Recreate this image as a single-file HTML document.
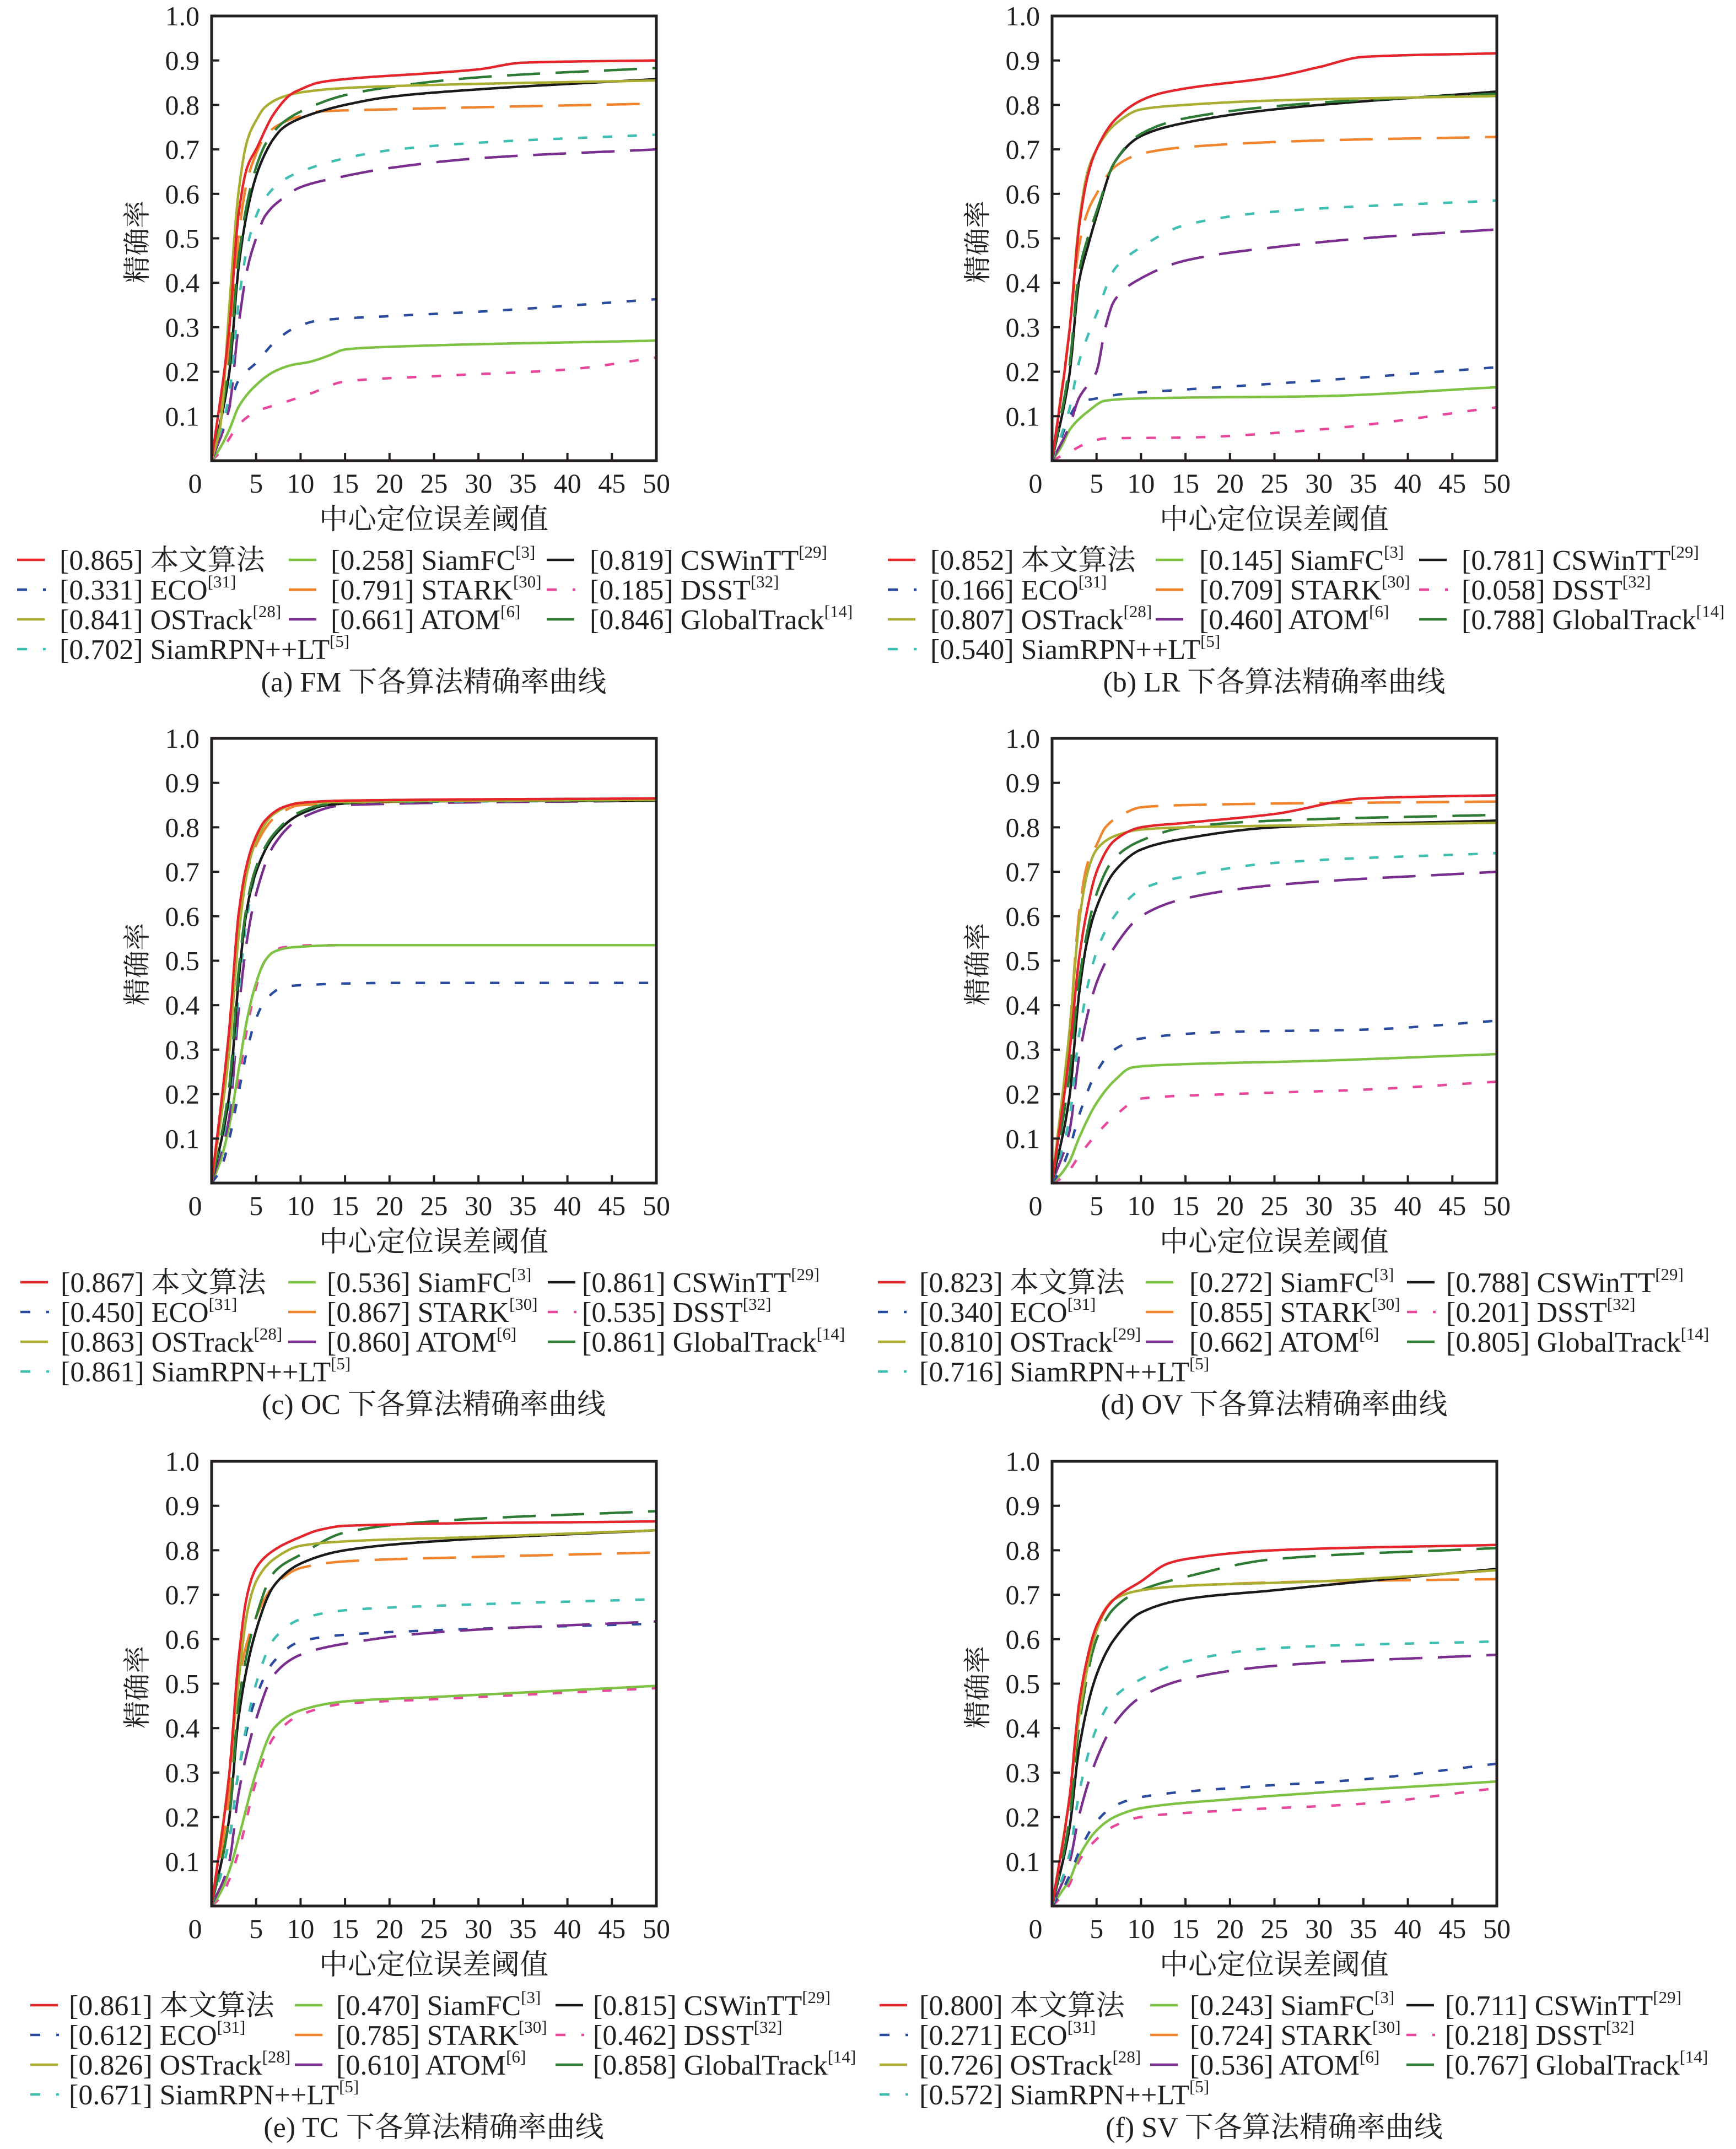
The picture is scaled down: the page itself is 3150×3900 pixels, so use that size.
<!DOCTYPE html>
<html><head><meta charset="utf-8">
<style>
html,body{margin:0;padding:0;background:#fff;}
svg{display:block;}
text{font-family:"Liberation Serif","Noto Serif CJK SC",serif;fill:#231f20;}
</style></head>
<body>
<svg id="s" xmlns="http://www.w3.org/2000/svg" width="3150" height="3900" viewBox="0 0 3150 3900"></svg>
<script>
const W=807,H=807;
const ST={
red:{c:'#e4262c',d:null},green:{c:'#7dc242',d:null},black:{c:'#1a1a1a',d:null},
blue:{c:'#2b4c9e',d:'17 28'},orange:{c:'#f0852d',d:'60 28'},pink:{c:'#e8479b',d:'17 28'},
olive:{c:'#a9ae32',d:null},purple:{c:'#7a2e8e',d:'60 28'},dg:{c:'#2e7b36',d:'60 28'},cyan:{c:'#3fbfb2',d:'17 28'}};
const order=['pink','green','blue','purple','cyan','orange','black','dg','olive','red'];
const legOrder=[['red','green','black'],['blue','orange','pink'],['olive','purple','dg'],['cyan']];
const P=[
{x:384,y:29,cap:'(a) FM 下各算法精确率曲线',cols:[[-353,-276],[140,216],[608,686]],
 names:{red:['0.865','本文算法',''],green:['0.258','SiamFC','[3]'],black:['0.819','CSWinTT','[29]'],blue:['0.331','ECO','[31]'],orange:['0.791','STARK','[30]'],pink:['0.185','DSST','[32]'],olive:['0.841','OSTrack','[28]'],purple:['0.661','ATOM','[6]'],dg:['0.846','GlobalTrack','[14]'],cyan:['0.702','SiamRPN++LT','[5]']},
 d:{red:[[0,0],[2,0.3],[3,0.55],[4,0.66],[5,0.7],[7,0.78],[9,0.825],[10,0.835],[12,0.85],[15,0.858],[25,0.872],[30,0.88],[35,0.895],[50,0.9]],
 olive:[[0,0],[1,0.08],[2,0.35],[3,0.6],[4,0.72],[5,0.765],[6,0.795],[8,0.818],[10,0.828],[15,0.838],[25,0.845],[50,0.855]],
 black:[[0,0],[2,0.2],[3,0.43],[4,0.56],[5,0.64],[6,0.69],[7,0.725],[8,0.748],[10,0.77],[13,0.79],[15,0.8],[20,0.818],[30,0.835],[50,0.858]],
 dg:[[0,0],[2,0.22],[3,0.45],[4,0.58],[5,0.66],[6,0.71],[7,0.74],[8,0.76],[10,0.785],[15,0.822],[20,0.84],[30,0.862],[50,0.883]],
 orange:[[0,0],[2,0.25],[3,0.5],[4,0.63],[5,0.69],[6,0.73],[8,0.76],[10,0.775],[12,0.785],[20,0.79],[50,0.803]],
 cyan:[[0,0],[2,0.15],[3,0.35],[4,0.48],[5,0.55],[6,0.59],[8,0.63],[10,0.65],[15,0.68],[20,0.698],[30,0.715],[50,0.733]],
 purple:[[0,0],[2,0.12],[3,0.3],[4,0.43],[5,0.5],[6,0.55],[8,0.59],[10,0.615],[15,0.64],[20,0.658],[30,0.68],[50,0.7]],
 blue:[[0,0],[1,0.05],[2,0.12],[3,0.18],[5,0.22],[7,0.265],[9,0.295],[12,0.315],[20,0.325],[30,0.335],[50,0.363]],
 green:[[0,0],[1,0.03],[2,0.07],[3,0.12],[5,0.17],[7,0.2],[9,0.215],[11,0.222],[13,0.235],[15,0.25],[20,0.256],[50,0.27]],
 pink:[[0,0],[1,0.02],[2,0.05],[3,0.08],[5,0.11],[8,0.13],[11,0.15],[15,0.178],[25,0.19],[40,0.205],[50,0.232]]}},
{x:1909,y:29,cap:'(b) LR 下各算法精确率曲线',cols:[[-298,-221],[188,267],[666,743]],
 names:{red:['0.852','本文算法',''],green:['0.145','SiamFC','[3]'],black:['0.781','CSWinTT','[29]'],blue:['0.166','ECO','[31]'],orange:['0.709','STARK','[30]'],pink:['0.058','DSST','[32]'],olive:['0.807','OSTrack','[28]'],purple:['0.460','ATOM','[6]'],dg:['0.788','GlobalTrack','[14]'],cyan:['0.540','SiamRPN++LT','[5]']},
 d:{red:[[0,0],[2,0.3],[3,0.52],[4,0.64],[5,0.7],[7,0.765],[10,0.81],[12,0.825],[15,0.837],[25,0.863],[30,0.885],[35,0.908],[50,0.916]],
 olive:[[0,0],[2,0.3],[3,0.53],[4,0.65],[5,0.7],[7,0.755],[10,0.79],[15,0.8],[25,0.81],[50,0.82]],
 black:[[0,0],[2,0.2],[3,0.4],[4,0.48],[5,0.55],[7,0.67],[10,0.73],[15,0.76],[25,0.79],[50,0.83]],
 dg:[[0,0],[2,0.22],[3,0.42],[4,0.5],[5,0.56],[7,0.67],[10,0.735],[15,0.77],[30,0.805],[50,0.825]],
 orange:[[0,0],[2,0.3],[3,0.48],[4,0.56],[5,0.6],[7,0.66],[10,0.69],[15,0.705],[30,0.72],[50,0.728]],
 cyan:[[0,0],[2,0.12],[3,0.22],[4,0.28],[5,0.33],[7,0.43],[10,0.48],[15,0.53],[25,0.56],[50,0.585]],
 purple:[[0,0],[2,0.08],[3,0.14],[4,0.17],[5,0.2],[6,0.3],[7,0.36],[10,0.41],[15,0.45],[25,0.48],[35,0.5],[50,0.52]],
 blue:[[0,0],[1,0.05],[2,0.1],[3,0.13],[5,0.14],[8,0.15],[15,0.16],[30,0.18],[50,0.21]],
 green:[[0,0],[1,0.03],[2,0.07],[4,0.11],[6,0.135],[10,0.14],[30,0.145],[50,0.165]],
 pink:[[0,0],[1,0.01],[2,0.02],[4,0.04],[6,0.05],[15,0.052],[30,0.07],[50,0.12]]}},
{x:384,y:1340,cap:'(c) OC 下各算法精确率曲线',cols:[[-347,-274],[139,209],[610,672]],
 names:{red:['0.867','本文算法',''],green:['0.536','SiamFC','[3]'],black:['0.861','CSWinTT','[29]'],blue:['0.450','ECO','[31]'],orange:['0.867','STARK','[30]'],pink:['0.535','DSST','[32]'],olive:['0.863','OSTrack','[28]'],purple:['0.860','ATOM','[6]'],dg:['0.861','GlobalTrack','[14]'],cyan:['0.861','SiamRPN++LT','[5]']},
 d:{red:[[0,0],[2,0.35],[3,0.6],[4,0.72],[5,0.78],[6,0.815],[8,0.845],[10,0.855],[15,0.86],[50,0.865]],
 olive:[[0,0],[2,0.3],[3,0.55],[4,0.7],[5,0.77],[7,0.83],[10,0.855],[50,0.862]],
 orange:[[0,0],[2,0.32],[3,0.57],[4,0.7],[5,0.76],[7,0.82],[10,0.85],[50,0.865]],
 black:[[0,0],[2,0.2],[3,0.45],[4,0.62],[5,0.7],[7,0.78],[10,0.83],[13,0.85],[20,0.858],[50,0.86]],
 dg:[[0,0],[2,0.22],[3,0.47],[4,0.63],[5,0.71],[7,0.785],[10,0.835],[13,0.852],[20,0.858],[50,0.861]],
 cyan:[[0,0],[2,0.18],[3,0.42],[4,0.6],[5,0.7],[7,0.78],[10,0.83],[15,0.855],[50,0.86]],
 purple:[[0,0],[2,0.15],[3,0.38],[4,0.55],[5,0.65],[7,0.76],[10,0.82],[15,0.85],[50,0.86]],
 green:[[0,0],[1,0.05],[2,0.13],[3,0.25],[4,0.37],[5,0.45],[6,0.5],[7,0.52],[9,0.53],[15,0.535],[50,0.535]],
 pink:[[0,0],[1,0.03],[2,0.1],[3,0.22],[4,0.35],[5,0.44],[6,0.5],[8,0.53],[12,0.535],[50,0.535]],
 blue:[[0,0],[1,0.03],[2,0.1],[3,0.2],[4,0.3],[5,0.37],[6,0.41],[8,0.44],[10,0.445],[20,0.45],[50,0.45]]}},
{x:1909,y:1340,cap:'(d) OV 下各算法精确率曲线',cols:[[-316,-241],[170,249],[644,715]],
 names:{red:['0.823','本文算法',''],green:['0.272','SiamFC','[3]'],black:['0.788','CSWinTT','[29]'],blue:['0.340','ECO','[31]'],orange:['0.855','STARK','[30]'],pink:['0.201','DSST','[32]'],olive:['0.810','OSTrack','[29]'],purple:['0.662','ATOM','[6]'],dg:['0.805','GlobalTrack','[14]'],cyan:['0.716','SiamRPN++LT','[5]']},
 d:{red:[[0,0],[2,0.3],[3,0.5],[4,0.62],[5,0.7],[7,0.77],[10,0.8],[15,0.81],[25,0.83],[35,0.865],[50,0.872]],
 orange:[[0,0],[2,0.35],[3,0.6],[4,0.72],[5,0.76],[6,0.8],[8,0.83],[10,0.845],[15,0.85],[50,0.858]],
 olive:[[0,0],[2,0.35],[3,0.58],[4,0.7],[5,0.75],[7,0.78],[10,0.795],[15,0.8],[30,0.805],[50,0.81]],
 dg:[[0,0],[2,0.25],[3,0.45],[5,0.65],[7,0.73],[10,0.77],[15,0.8],[25,0.815],[50,0.828]],
 black:[[0,0],[2,0.2],[3,0.42],[4,0.55],[5,0.62],[7,0.7],[10,0.75],[15,0.775],[25,0.8],[50,0.815]],
 cyan:[[0,0],[2,0.15],[3,0.33],[5,0.52],[7,0.6],[10,0.66],[15,0.69],[25,0.72],[50,0.742]],
 purple:[[0,0],[2,0.12],[3,0.28],[5,0.45],[7,0.53],[10,0.6],[15,0.64],[25,0.67],[50,0.7]],
 blue:[[0,0],[1,0.03],[2,0.08],[3,0.15],[5,0.25],[7,0.3],[10,0.325],[20,0.34],[35,0.345],[50,0.365]],
 green:[[0,0],[1,0.02],[2,0.05],[3,0.1],[5,0.18],[7,0.23],[9,0.26],[12,0.265],[30,0.275],[50,0.29]],
 pink:[[0,0],[1,0.01],[2,0.03],[3,0.06],[5,0.11],[7,0.15],[10,0.19],[20,0.2],[35,0.21],[50,0.228]]}},
{x:384,y:2652,cap:'(e) TC 下各算法精确率曲线',cols:[[-329,-259],[151,226],[624,692]],
 names:{red:['0.861','本文算法',''],green:['0.470','SiamFC','[3]'],black:['0.815','CSWinTT','[29]'],blue:['0.612','ECO','[31]'],orange:['0.785','STARK','[30]'],pink:['0.462','DSST','[32]'],olive:['0.826','OSTrack','[28]'],purple:['0.610','ATOM','[6]'],dg:['0.858','GlobalTrack','[14]'],cyan:['0.671','SiamRPN++LT','[5]']},
 d:{red:[[0,0],[2,0.3],[3,0.55],[4,0.7],[5,0.76],[7,0.8],[10,0.83],[12,0.845],[15,0.855],[50,0.865]],
 olive:[[0,0],[2,0.3],[3,0.5],[4,0.66],[5,0.73],[7,0.78],[10,0.81],[15,0.82],[30,0.83],[50,0.845]],
 dg:[[0,0],[2,0.2],[3,0.45],[5,0.65],[7,0.75],[10,0.79],[15,0.84],[25,0.865],[50,0.888]],
 black:[[0,0],[2,0.2],[3,0.42],[5,0.62],[7,0.72],[10,0.77],[15,0.8],[25,0.82],[50,0.845]],
 orange:[[0,0],[2,0.25],[3,0.5],[5,0.65],[7,0.72],[10,0.76],[15,0.775],[30,0.785],[50,0.795]],
 cyan:[[0,0],[2,0.15],[3,0.3],[5,0.5],[7,0.6],[10,0.645],[15,0.665],[25,0.675],[50,0.69]],
 blue:[[0,0],[2,0.15],[3,0.3],[5,0.47],[7,0.55],[10,0.595],[15,0.61],[25,0.62],[50,0.635]],
 purple:[[0,0],[2,0.1],[3,0.25],[5,0.42],[7,0.52],[10,0.565],[15,0.59],[25,0.615],[50,0.64]],
 green:[[0,0],[1,0.03],[2,0.08],[3,0.15],[5,0.3],[7,0.4],[10,0.44],[15,0.46],[25,0.47],[50,0.495]],
 pink:[[0,0],[1,0.02],[2,0.06],[3,0.12],[5,0.28],[7,0.38],[10,0.43],[15,0.455],[25,0.465],[50,0.49]]}},
{x:1909,y:2652,cap:'(f) SV 下各算法精确率曲线',cols:[[-313,-241],[178,250],[643,713]],
 names:{red:['0.800','本文算法',''],green:['0.243','SiamFC','[3]'],black:['0.711','CSWinTT','[29]'],blue:['0.271','ECO','[31]'],orange:['0.724','STARK','[30]'],pink:['0.218','DSST','[32]'],olive:['0.726','OSTrack','[28]'],purple:['0.536','ATOM','[6]'],dg:['0.767','GlobalTrack','[14]'],cyan:['0.572','SiamRPN++LT','[5]']},
 d:{red:[[0,0],[2,0.25],[3,0.45],[4,0.56],[5,0.63],[7,0.69],[10,0.73],[13,0.77],[15,0.78],[25,0.8],[50,0.812]],
 dg:[[0,0],[2,0.2],[3,0.4],[5,0.6],[7,0.67],[10,0.71],[15,0.74],[25,0.78],[50,0.805]],
 olive:[[0,0],[2,0.25],[3,0.42],[5,0.62],[7,0.69],[10,0.71],[15,0.72],[30,0.73],[50,0.755]],
 orange:[[0,0],[2,0.25],[3,0.45],[5,0.63],[7,0.69],[10,0.71],[15,0.72],[30,0.73],[50,0.735]],
 black:[[0,0],[2,0.18],[3,0.35],[5,0.52],[7,0.6],[10,0.66],[15,0.69],[25,0.71],[35,0.73],[50,0.758]],
 cyan:[[0,0],[2,0.12],[3,0.25],[5,0.4],[7,0.47],[10,0.51],[15,0.55],[25,0.58],[50,0.595]],
 purple:[[0,0],[2,0.1],[3,0.2],[5,0.33],[7,0.41],[10,0.47],[15,0.51],[25,0.54],[50,0.565]],
 blue:[[0,0],[1,0.03],[2,0.07],[3,0.12],[5,0.19],[7,0.225],[10,0.245],[20,0.265],[35,0.285],[50,0.32]],
 green:[[0,0],[1,0.03],[2,0.06],[3,0.11],[5,0.17],[7,0.2],[10,0.22],[20,0.24],[30,0.255],[50,0.28]],
 pink:[[0,0],[1,0.02],[2,0.05],[3,0.1],[5,0.15],[7,0.18],[10,0.2],[20,0.215],[35,0.23],[50,0.265]]}}
];
function mono(pts){
 const n=pts.length,xs=pts.map(p=>p[0]),ys=pts.map(p=>p[1]);
 const dl=[],m=[];
 for(let i=0;i<n-1;i++)dl.push((ys[i+1]-ys[i])/(xs[i+1]-xs[i]));
 m[0]=dl[0];m[n-1]=dl[n-2];
 for(let i=1;i<n-1;i++){ if(dl[i-1]*dl[i]<=0)m[i]=0; else {const w1=2*(xs[i+1]-xs[i])+(xs[i]-xs[i-1]),w2=(xs[i+1]-xs[i])+2*(xs[i]-xs[i-1]);m[i]=(w1+w2)/(w1/dl[i-1]+w2/dl[i]);}}
 const out=[];
 for(let i=0;i<n-1;i++){const h=xs[i+1]-xs[i];const N=Math.max(4,Math.ceil(h*4));
  for(let k=0;k<N;k++){const t=k/N,t2=t*t,t3=t2*t;
   const y=(2*t3-3*t2+1)*ys[i]+(t3-2*t2+t)*h*m[i]+(-2*t3+3*t2)*ys[i+1]+(t3-t2)*h*m[i+1];
   out.push([xs[i]+t*h,y]);}}
 out.push([xs[n-1],ys[n-1]]);return out;}
let s='';
for(const p of P){
 const X=v=>p.x+v/50*W, Y=v=>p.y+H-v*H;
 s+=`<g>`;
 for(const k of order){const st=ST[k];const pts=mono(p.d[k]);
  s+=`<polyline fill="none" stroke="${st.c}" stroke-width="4.5" stroke-linejoin="round" ${st.d?`stroke-dasharray="${st.d}"`:''} points="${pts.map(q=>X(q[0]).toFixed(1)+','+Y(q[1]).toFixed(1)).join(' ')}"/>`;}
 s+=`<rect x="${p.x}" y="${p.y}" width="${W}" height="${H}" fill="none" stroke="#231f20" stroke-width="5"/>`;
 for(let i=1;i<=9;i++){const yy=Y(i/10);s+=`<line x1="${p.x}" x2="${p.x+14}" y1="${yy}" y2="${yy}" stroke="#231f20" stroke-width="4"/>`;}
 for(let i=5;i<50;i+=5){const xx=X(i);s+=`<line x1="${xx}" x2="${xx}" y1="${p.y+H}" y2="${p.y+H-14}" stroke="#231f20" stroke-width="4"/>`;}
 for(let i=1;i<=10;i++){s+=`<text x="${p.x-22}" y="${Y(i/10)+17}" font-size="50" text-anchor="end">${(i/10).toFixed(1)}</text>`;}
 for(let i=0;i<=50;i+=5){s+=`<text x="${i==0?p.x-30:X(i)}" y="${p.y+H+58}" font-size="50" text-anchor="middle">${i}</text>`;}
 s+=`<text x="${p.x+403}" y="${p.y+H+124}" font-size="52" text-anchor="middle">中心定位误差阈值</text>`;
 s+=`<text transform="translate(${p.x-118},${p.y+410}) rotate(-90)" font-size="50" text-anchor="middle">精确率</text>`;
 legOrder.forEach((row,ri)=>{const cy=p.y+987+ri*54;
  row.forEach((k,ci)=>{const st=ST[k];const [lx,tx]=p.cols[ci];const nm=p.names[k];
   if(st.d&&st.d.startsWith('17')){s+=`<line x1="${p.x+lx}" x2="${p.x+lx+18}" y1="${cy}" y2="${cy}" stroke="${st.c}" stroke-width="4.5"/><line x1="${p.x+lx+47}" x2="${p.x+lx+52}" y1="${cy}" y2="${cy}" stroke="${st.c}" stroke-width="4.5"/>`;}
   else s+=`<line x1="${p.x+lx}" x2="${p.x+lx+50}" y1="${cy}" y2="${cy}" stroke="${st.c}" stroke-width="4.5"/>`;
   s+=`<text x="${p.x+tx}" y="${cy+18}" font-size="52">[${nm[0]}] ${nm[1]}${nm[2]?`<tspan font-size="31" dy="-22">${nm[2]}</tspan>`:''}</text>`;
  });});
 s+=`<text x="${p.x+403}" y="${p.y+1226}" font-size="52" text-anchor="middle">${p.cap}</text>`;
 s+=`</g>`;
}
document.getElementById('s').innerHTML=s;
</script>
</body></html>
